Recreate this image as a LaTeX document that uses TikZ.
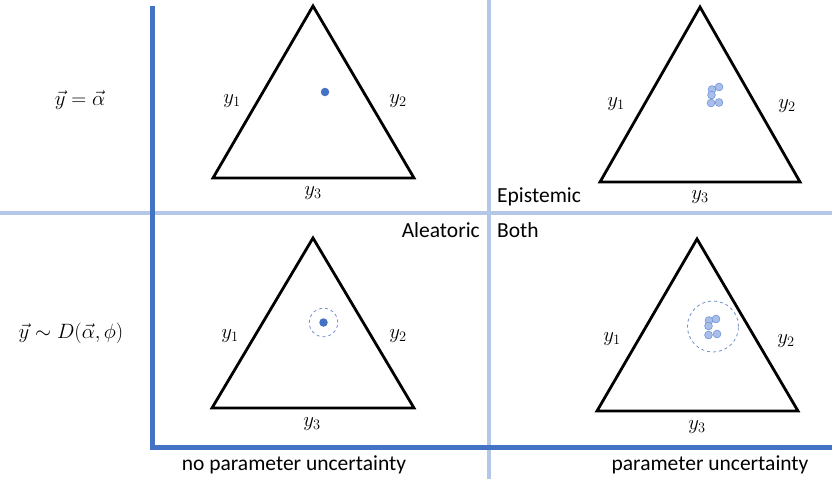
\documentclass[tikz,border=0pt]{standalone}
\usepackage{fontspec}
\setmainfont{Carlito}
\definecolor{dkblue}{HTML}{4472C4}
\definecolor{ltblue}{HTML}{B4C7E7}
\definecolor{ptfill}{HTML}{A9BFEA}
\definecolor{ptdraw}{HTML}{7094D8}
\definecolor{dashc}{HTML}{7090C8}
\begin{document}
\begin{tikzpicture}[x=1pt,y=-1pt,
  tri/.style={draw=black,line width=2.8pt,line join=miter},
  lbl/.style={font=\fontsize{22.5}{26}\selectfont,inner sep=0pt},
  mlbl/.style={font=\fontsize{21}{26}\selectfont,inner sep=0pt},
  txt/.style={font=\fontsize{21.5}{25}\selectfont,inner sep=0pt},
  pt/.style={circle,fill=ptfill,draw=ptdraw,line width=0.6pt,minimum size=7.8pt,inner sep=0pt},
  dot/.style={circle,fill=dkblue,minimum size=8.5pt,inner sep=0pt},
  halo/.style={circle,draw=dashc,dashed,line width=0.8pt,inner sep=0pt}]
\useasboundingbox (0,0) rectangle (832,479);
% grid lines
\coordinate (lvT) at (489,0); \coordinate (lvB) at (489,479);
\coordinate (lhL) at (0,213); \coordinate (lhR) at (832,213);
\draw[ltblue,line width=4pt] (lvT) -- (lvB);
\draw[ltblue,line width=4pt] (lhL) -- (lhR);
\coordinate (dT) at (152,6); \coordinate (dC) at (152,447); \coordinate (dR) at (832,447);
\draw[dkblue,line width=5pt,line join=miter] (dT) -- (dC) -- (dR);
% triangles
\coordinate (a1) at (313,6); \coordinate (b1) at (213,178); \coordinate (c1) at (414,178);
\draw[tri] (a1) -- (b1) -- (c1) -- cycle;
\coordinate (a2) at (700,7); \coordinate (b2) at (600,182); \coordinate (c2) at (800,182);
\draw[tri] (a2) -- (b2) -- (c2) -- cycle;
\coordinate (a3) at (313,238); \coordinate (b3) at (212,408); \coordinate (c3) at (414,408);
\draw[tri] (a3) -- (b3) -- (c3) -- cycle;
\coordinate (a4) at (697,239); \coordinate (b4) at (597,411); \coordinate (c4) at (798,411);
\draw[tri] (a4) -- (b4) -- (c4) -- cycle;
% labels
\node[lbl] (t1y1) at (232,101) {$y_1$};
\node[lbl] (t1y2) at (398,101) {$y_2$};
\node[lbl] (t1y3) at (313,193) {$y_3$};
\node[lbl] (t2y1) at (616,104) {$y_1$};
\node[lbl] (t2y2) at (787,106) {$y_2$};
\node[lbl] (t2y3) at (700,197) {$y_3$};
\node[lbl] (t3y1) at (230,336) {$y_1$};
\node[lbl] (t3y2) at (398,336) {$y_2$};
\node[lbl] (t3y3) at (312,424) {$y_3$};
\node[lbl] (t4y1) at (612,339) {$y_1$};
\node[lbl] (t4y2) at (786,341) {$y_2$};
\node[lbl] (t4y3) at (697,427) {$y_3$};
% points
\node[dot] (p1) at (325,92) {};
\node[pt] (q1) at (712,89.5) {};
\node[pt] (q2) at (719,87) {};
\node[pt] (q3) at (711.5,95) {};
\node[pt] (q4) at (711,103) {};
\node[pt] (q5) at (719,102.5) {};
\node[halo,minimum size=28.5pt] (h3) at (323.5,322.5) {};
\node[dot] (p3) at (323.5,322.5) {};
\node[halo,minimum size=51pt] (h4) at (713,326.5) {};
\node[pt] (r1) at (709,320.5) {};
\node[pt] (r2) at (716,319) {};
\node[pt] (r3) at (708.5,326) {};
\node[pt] (r4) at (708.5,335) {};
\node[pt] (r5) at (717,334) {};
% texts
\node[mlbl] (m1) at (80,100) {$\vec{y}=\vec{\alpha}$};
\node[mlbl] (m2) at (71,333) {$\vec{y}\sim D(\vec{\alpha},\phi)$};
\node[txt,anchor=west] (epi) at (497,197) {Epistemic};
\node[txt,anchor=east] (ale) at (480,230) {Aleatoric};
\node[txt,anchor=west] (both) at (497,230) {Both};
\node[txt] (nopu) at (294,465) {no parameter uncertainty};
\node[txt] (pu) at (710,465) {parameter uncertainty};
\end{tikzpicture}
\end{document}
